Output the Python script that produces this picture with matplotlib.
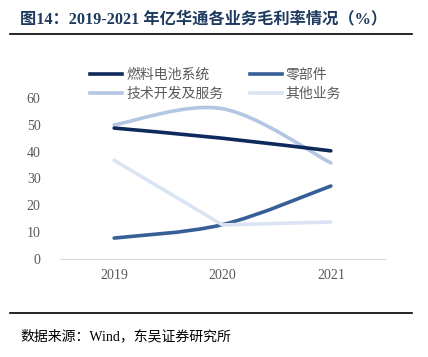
import numpy as np
import matplotlib
matplotlib.use('Agg')
import matplotlib.pyplot as plt
from matplotlib.path import Path
from matplotlib.patches import PathPatch
from matplotlib.lines import Line2D

plt.rcParams['font.family'] = ['Liberation Serif', 'Noto Sans CJK SC']

years = ['2019', '2020', '2021']
names = ['燃料电池系统', '零部件', '技术开发及服务', '其他业务']
fuel_cell = [48.8, 45.0, 40.3]
parts = [7.8, 12.8, 27.2]
tech = [50.0, 56.0, 35.8]
other = [36.8, 12.7, 13.8]
colors = ['#0e2a5c', '#365f97', '#b3c6e4', '#dbe4f2']
smooth = [True, True, True, False]


def smooth_path(ys):
    # excel-style smoothed line: bezier with catmull-rom control points
    pts = np.column_stack([np.arange(len(ys)), ys]).astype(float)
    ext = np.vstack([pts[0], pts, pts[-1]])
    verts = [pts[0]]
    codes = [Path.MOVETO]
    for i in range(len(pts) - 1):
        p0, p1, p2, p3 = ext[i], ext[i + 1], ext[i + 2], ext[i + 3]
        verts += [p1 + (p2 - p0) / 6, p2 - (p3 - p1) / 6, p2]
        codes += [Path.CURVE4] * 3
    return Path(verts, codes)


fig = plt.figure(figsize=(4.28, 3.57), dpi=100)
ax = fig.add_axes([60 / 428, 1 - 259 / 357, 325 / 428, 161 / 357])

series = [fuel_cell, parts, tech, other]
for ys, c, sm in list(zip(series, colors, smooth))[::-1]:
    if sm:
        ax.add_patch(PathPatch(smooth_path(ys), fill=False, edgecolor=c, lw=2.6,
                               capstyle='round'))
    else:
        ax.plot(range(len(ys)), ys, color=c, lw=2.6, solid_capstyle='round')

ax.set_xlim(-0.5, 2.5)
ax.set_ylim(0, 60)
ax.set_xticks(range(3))
ax.set_xticklabels(years)
ax.set_yticks(range(0, 61, 10))
for s in ['top', 'right', 'left']:
    ax.spines[s].set_visible(False)
ax.spines['bottom'].set_color('#d9d9d9')
ax.tick_params(length=0, labelsize=10, labelcolor='#595959')
ax.tick_params(axis='y', pad=14)
ax.tick_params(axis='x', pad=7)

handles = [Line2D([], [], color=c, lw=2.6) for c in colors]
order = [0, 2, 1, 3]
ax.legend([handles[i] for i in order], [names[i] for i in order], ncol=2,
          loc='upper left', bbox_to_anchor=(83 / 428, 1 - 61 / 357),
          bbox_transform=fig.transFigure, frameon=False,
          handlelength=2.3, handletextpad=0.3, columnspacing=1.9,
          labelspacing=0.35, borderpad=0, labelcolor='#595959',
          prop={'family': ['Noto Sans CJK SC'], 'size': 10})

fig.text(20 / 428, 1 - 19 / 357, '图14：2019-2021 年亿华通各业务毛利率情况（%）',
         fontsize=11.7, fontweight='bold', color='#1f3a5f', va='center')
fig.add_artist(Line2D([10 / 428, 412 / 428], [1 - 34 / 357] * 2, color='black', lw=1.2))
fig.add_artist(Line2D([10 / 428, 412 / 428], [1 - 313 / 357] * 2, color='black', lw=1.2))
fig.text(20 / 428, 1 - 336 / 357, '数据来源：Wind，东吴证券研究所', fontsize=10,
         color='black', va='center')

fig.savefig('out.png', dpi=100)
